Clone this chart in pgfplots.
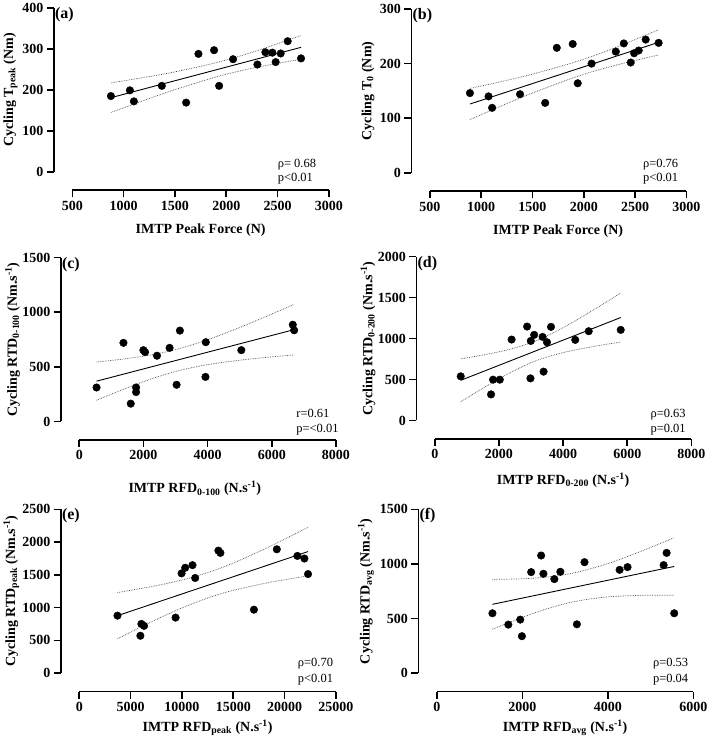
\documentclass[border=0pt]{standalone}
\usepackage{fontspec}
\setmainfont{Liberation Serif}
\usepackage{pgfplots}
\pgfplotsset{compat=1.18}

\newcommand{\tk}{\fontsize{14}{14}\selectfont\bfseries}
\newcommand{\lab}{\fontsize{14}{15}\selectfont\bfseries}
\newcommand{\note}{\fontsize{12.5}{13}\selectfont}
\newcommand{\pan}{\fontsize{16}{16}\selectfont\bfseries}

\pgfplotsset{
  prism/.style={
    scale only axis, width=257pt, height=164pt,
    anchor=south west,
    axis x line=bottom, axis y line=left,
    axis line shift=18.5pt,
    axis line style={-, line width=1.6pt},
    tick align=outside, major tick length=7pt,
    every tick/.style={black, line width=1.6pt},
    scaled ticks=false,
    clip=false,
    xticklabel={\tk\pgfmathprintnumber[assume math mode=true,1000 sep={}]{\tick}},
    yticklabel={\tk\pgfmathprintnumber[assume math mode=true,1000 sep={}]{\tick}},
  },
  dot/.style={only marks, mark=*, mark size=3.8pt, black},
  fit/.style={black, line width=0.9pt, no marks},
  band/.style={black!70, densely dotted, line width=0.7pt, no marks, smooth},
}

\begin{document}
\begin{tikzpicture}
\path (0,0) rectangle (709pt,745pt);

% (a)
\begin{axis}[prism, at={(72pt,574pt)},
  xmin=500, xmax=3000, ymin=0, ymax=400,
  xtick={500,1000,...,3000}, ytick={0,100,...,400}]
\addplot[band] coordinates {(876,217.1) (1200,230.5) (1500,244.1) (1943,269.1) (2300,295.8) (2728,333.0)};
\addplot[band] coordinates {(876,144.9) (1200,174.5) (1500,200.7) (1943,234.6) (2300,255.2) (2728,275.0)};
\addplot[fit] coordinates {(876,181) (2728,304)};
\addplot[dot] coordinates {
  (876,185) (1061,199) (1100,172) (1372,210) (1609,169) (1729,288)
  (1881,297) (1930,210) (2066,275) (2303,262) (2381,292) (2449,291)
  (2481,268) (2530,289) (2598,319) (2728,277)};
\node[anchor=north west, inner sep=0pt, font=\pan] at (rel axis cs:-0.068,1.005) {(a)};
\node[anchor=base west, inner sep=0pt, font=\note] at (rel axis cs:0.80,0.024) {ρ= 0.68};
\node[anchor=base west, inner sep=0pt, font=\note] at (rel axis cs:0.80,-0.058) {p<0.01};
\node[font=\lab] at (rel axis cs:0.5,-0.354) {IMTP Peak Force (N)};
\node[font=\lab, rotate=90] at (rel axis cs:-0.241,0.5) {Cycling T\textsubscript{peak} (Nm)};
\end{axis}

% (b)
\begin{axis}[prism, at={(430pt,573pt)},
  xmin=500, xmax=3000, ymin=0, ymax=300,
  xtick={500,1000,...,3000}, ytick={0,100,...,300}]
\addplot[band] coordinates {(891,154.5) (1200,167.3) (1500,180.7) (1943,204.5) (2300,228.7) (2729,262.1)};
\addplot[band] coordinates {(891,97.5) (1200,122.7) (1500,146.1) (1943,177.0) (2300,196.5) (2729,215.9)};
\addplot[fit] coordinates {(891,126) (2729,239)};
\addplot[dot] coordinates {
  (891,146) (1072,140) (1107,119) (1379,144) (1624,128) (1737,229)
  (1892,236) (1941,164) (2076,200) (2312,222) (2390,237) (2457,202)
  (2490,219) (2535,224) (2603,244) (2729,238)};
\node[anchor=north west, inner sep=0pt, font=\pan] at (rel axis cs:-0.068,1.005) {(b)};
\node[anchor=base west, inner sep=0pt, font=\note] at (rel axis cs:0.83,0.03) {ρ=0.76};
\node[anchor=base west, inner sep=0pt, font=\note] at (rel axis cs:0.83,-0.055) {p<0.01};
\node[font=\lab] at (rel axis cs:0.5,-0.354) {IMTP Peak Force (N)};
\node[font=\lab, rotate=90] at (rel axis cs:-0.241,0.5) {Cycling T\textsubscript{0} (Nm)};
\end{axis}

% (c)
\begin{axis}[prism, at={(79pt,324pt)},
  xmin=0, xmax=8000, ymin=0, ymax=1500,
  xtick={0,2000,...,8000}, ytick={0,500,...,1500}]
\addplot[band] coordinates {(538,544) (1500,576.3) (2300,612.8) (3049,661.4) (4000,748.1) (5000,860.8) (6000,983.8) (6697,1072.3)};
\addplot[band] coordinates {(538,194) (1500,309.1) (2300,395.2) (3049,461.4) (4000,520.5) (5000,561.2) (6000,591.4) (6697,609.7)};
\addplot[fit] coordinates {(538,369) (6697,841)};
\addplot[dot] coordinates {
  (538,311) (1377,720) (1604,163) (1770,311) (1770,269) (1998,653)
  (2049,635) (2422,602) (2815,674) (3033,336) (3136,832) (3933,408)
  (3943,726) (5051,653) (6655,886) (6697,835)};
\node[anchor=north west, inner sep=0pt, font=\pan] at (rel axis cs:-0.068,1.005) {(c)};
\node[anchor=base west, inner sep=0pt, font=\note] at (rel axis cs:0.845,0.026) {r=0.61};
\node[anchor=base west, inner sep=0pt, font=\note] at (rel axis cs:0.845,-0.067) {p=<0.01};
\node[font=\lab] at (rel axis cs:0.45,-0.41) {IMTP RFD\textsubscript{0-100} (N.s\textsuperscript{-1})};
\node[font=\lab, rotate=90] at (rel axis cs:-0.26,0.5) {Cycling RTD\textsubscript{0-100} (Nm.s\textsuperscript{-1})};
\end{axis}

% (d)
\begin{axis}[prism, at={(435pt,325pt)},
  xmin=0, xmax=8000, ymin=0, ymax=2000,
  xtick={0,2000,...,8000}, ytick={0,500,...,2000}]
\addplot[band] coordinates {(808,752.4) (1500,799.1) (2300,865.3) (3099,963.6) (4000,1132.8) (5000,1362.7) (5796,1556.5)};
\addplot[band] coordinates {(808,227.6) (1500,393.7) (2300,573.5) (3099,721.1) (4000,829.0) (5000,906.7) (5796,957.5)};
\addplot[fit] coordinates {(808,490) (5796,1257)};
\addplot[dot] coordinates {
  (808,539) (1753,318) (1816,498) (2026,498) (2394,988) (2877,1147)
  (2982,514) (2992,971) (3097,1045) (3360,1020) (3391,596) (3497,955)
  (3622,1143) (4378,984) (4798,1090) (5796,1106)};
\node[anchor=north west, inner sep=0pt, font=\pan] at (rel axis cs:-0.068,1.005) {(d)};
\node[anchor=base west, inner sep=0pt, font=\note] at (rel axis cs:0.84,0.02) {ρ=0.63};
\node[anchor=base west, inner sep=0pt, font=\note] at (rel axis cs:0.84,-0.075) {p=0.01};
\node[font=\lab] at (rel axis cs:0.5,-0.366) {IMTP RFD\textsubscript{0-200} (N.s\textsuperscript{-1})};
\node[font=\lab, rotate=90] at (rel axis cs:-0.26,0.5) {Cycling RTD\textsubscript{0-200} (Nm.s\textsuperscript{-1})};
\end{axis}

% (e)
\begin{axis}[prism, at={(79pt,72pt)},
  xmin=0, xmax=25000, ymin=0, ymax=2500,
  xtick={0,5000,...,25000}, ytick={0,500,...,2500}]
\addplot[band] coordinates {(3719,1230.2) (7000,1319.4) (10000,1421) (12687,1543.4) (15000,1679.8) (18500,1928.4) (22282,2225.7)};
\addplot[band] coordinates {(3719,523.8) (7000,780.4) (10000,995) (12687,1155.9) (15000,1263.4) (18500,1383.6) (22282,1484.3)};
\addplot[fit] coordinates {(3719,877) (22282,1855)};
\addplot[dot] coordinates {
  (3719,877) (5951,570) (6048,751) (6306,721) (9379,847) (9961,1522)
  (10316,1608) (11028,1648) (11287,1452) (13550,1870) (13745,1835) (17011,968)
  (19242,1890) (21247,1789) (21927,1749) (22282,1512)};
\node[anchor=north west, inner sep=0pt, font=\pan] at (rel axis cs:-0.068,1.005) {(e)};
\node[anchor=base west, inner sep=0pt, font=\note] at (rel axis cs:0.851,0.038) {ρ=0.70};
\node[anchor=base west, inner sep=0pt, font=\note] at (rel axis cs:0.851,-0.057) {p<0.01};
\node[font=\lab] at (rel axis cs:0.5,-0.335) {IMTP RFD\textsubscript{peak} (N.s\textsuperscript{-1})};
\node[font=\lab, rotate=90] at (rel axis cs:-0.265,0.5) {Cycling RTD\textsubscript{peak} (Nm.s\textsuperscript{-1})};
\end{axis}

% (f)
\begin{axis}[prism, at={(437pt,72pt)},
  xmin=0, xmax=6000, ymin=0, ymax=1500,
  xtick={0,2000,...,6000}, ytick={0,500,...,1500}]
\addplot[band] coordinates {(1301,858.3) (2000,863.9) (2600,880.3) (3211,917.3) (4000,1002.7) (4800,1119.1) (5551,1240.9)};
\addplot[band] coordinates {(1301,401.7) (2000,510.3) (2600,591.9) (3211,654.8) (4000,698.1) (4800,712.3) (5551,713.1)};
\addplot[fit] coordinates {(1301,630) (5551,977)};
\addplot[dot] coordinates {
  (1301,548) (1672,444) (1951,490) (1990,338) (2206,925) (2439,1077)
  (2493,910) (2748,861) (2888,928) (3275,447) (3453,1016) (4274,946)
  (4459,971) (5303,989) (5373,1101) (5551,548)};
\node[anchor=north west, inner sep=0pt, font=\pan] at (rel axis cs:-0.068,1.005) {(f)};
\node[anchor=base west, inner sep=0pt, font=\note] at (rel axis cs:0.842,0.038) {ρ=0.53};
\node[anchor=base west, inner sep=0pt, font=\note] at (rel axis cs:0.842,-0.055) {p=0.04};
\node[font=\lab] at (rel axis cs:0.5,-0.335) {IMTP RFD\textsubscript{avg} (N.s\textsuperscript{-1})};
\node[font=\lab, rotate=90] at (rel axis cs:-0.276,0.5) {Cycling RTD\textsubscript{avg} (Nm.s\textsuperscript{-1})};
\end{axis}
\end{tikzpicture}
\end{document}
